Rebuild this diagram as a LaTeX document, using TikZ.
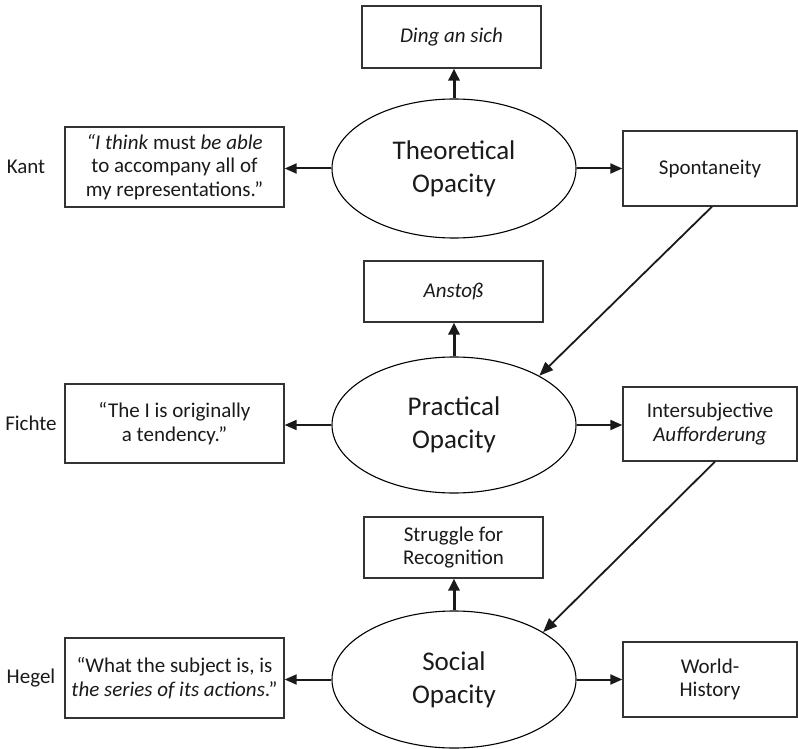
\documentclass[tikz,border=0pt]{standalone}
\usepackage{fontspec}
\setmainfont{Carlito}
\usetikzlibrary{arrows.meta,shapes.geometric}
\definecolor{ink}{HTML}{1A1A1A}
\definecolor{boxline}{HTML}{333333}
\tikzset{
  boxnode/.style={draw=boxline, line width=1.3pt, rectangle, inner sep=0pt, align=center,
    text=ink, font=\fontsize{21}{23.5}\selectfont},
  ovalnode/.style={draw=black, line width=1.1pt, ellipse, inner sep=0pt, align=center,
    minimum width=244pt, text=ink, font=\fontsize{27}{33}\selectfont},
  namelabel/.style={text=ink, inner sep=0pt, font=\fontsize{21}{23.5}\selectfont},
  sidearrow/.style={draw=ink, line width=2pt, -{Triangle[length=12pt,width=10pt]}},
  uparrow/.style={draw=ink, line width=3pt, -{Triangle[length=12pt,width=11pt]}},
  diagarrow/.style={draw=ink, line width=1.8pt, -{Triangle[length=14pt,width=11pt]}}
}
\begin{document}
\begin{tikzpicture}[x=1pt,y=-1pt]
\useasboundingbox (0,0) rectangle (798,749);

% row 1
\node[boxnode, minimum width=179pt, minimum height=62pt] (ding) at (451.5,37) {\textit{Ding an sich}};
\node[ovalnode, minimum height=139pt] (theo) at (454,168.5) {Theoretical\\Opacity};
\node[boxnode, minimum width=219pt, minimum height=80pt] (kantq) at (174.5,167)
  {\textit{“I think} must \textit{be able}\\to accompany all of\\my representations.”};
\node[boxnode, minimum width=174pt, minimum height=75pt] (spont) at (710,168.5) {Spontaneity};
\node[namelabel] (kant) at (26,167) {Kant};

% row 2
\node[boxnode, minimum width=179pt, minimum height=61pt] (anstoss) at (453.5,291.5) {\textit{Anstoß}};
\node[ovalnode, minimum height=136pt] (prac) at (454,425) {Practical\\Opacity};
\node[boxnode, minimum width=219pt, minimum height=79pt] (fichteq) at (174.5,423.5)
  {“The I is originally\\a tendency.”};
\node[boxnode, minimum width=174pt, minimum height=74pt] (inter) at (710,424) {Intersubjective\\\textit{Aufforderung}};
\node[namelabel] (fichte) at (31,423) {Fichte};

% row 3
\node[boxnode, minimum width=179pt, minimum height=61pt] (struggle) at (453.5,547.5) {Struggle for\\Recognition};
\node[ovalnode, minimum height=137pt] (soc) at (454,679.5) {Social\\Opacity};
\node[boxnode, minimum width=219pt, minimum height=80pt] (hegelq) at (174.5,678)
  {“What the subject is, is\\\textit{the series of its actions}.”};
\node[boxnode, minimum width=174pt, minimum height=75pt] (world) at (710,679.5) {World-\\History};
\node[namelabel] (hegel) at (31,678) {Hegel};

% connectors
\draw[uparrow] (theo.north) -- (theo.north |- ding.south);
\draw[sidearrow] (theo.west) -- (theo.west -| kantq.east);
\draw[sidearrow] (theo.east) -- (theo.east -| spont.west);
\draw[diagarrow] ([xshift=2pt]spont.south) -- (prac.30);

\draw[uparrow] (prac.north) -- (prac.north |- anstoss.south);
\draw[sidearrow] (prac.west) -- (prac.west -| fichteq.east);
\draw[sidearrow] (prac.east) -- (prac.east -| inter.west);
\draw[diagarrow] ([xshift=5pt]inter.south) -- (soc.28);

\draw[uparrow] (soc.north) -- (soc.north |- struggle.south);
\draw[sidearrow] (soc.west) -- (soc.west -| hegelq.east);
\draw[sidearrow] (soc.east) -- (soc.east -| world.west);
\end{tikzpicture}
\end{document}
